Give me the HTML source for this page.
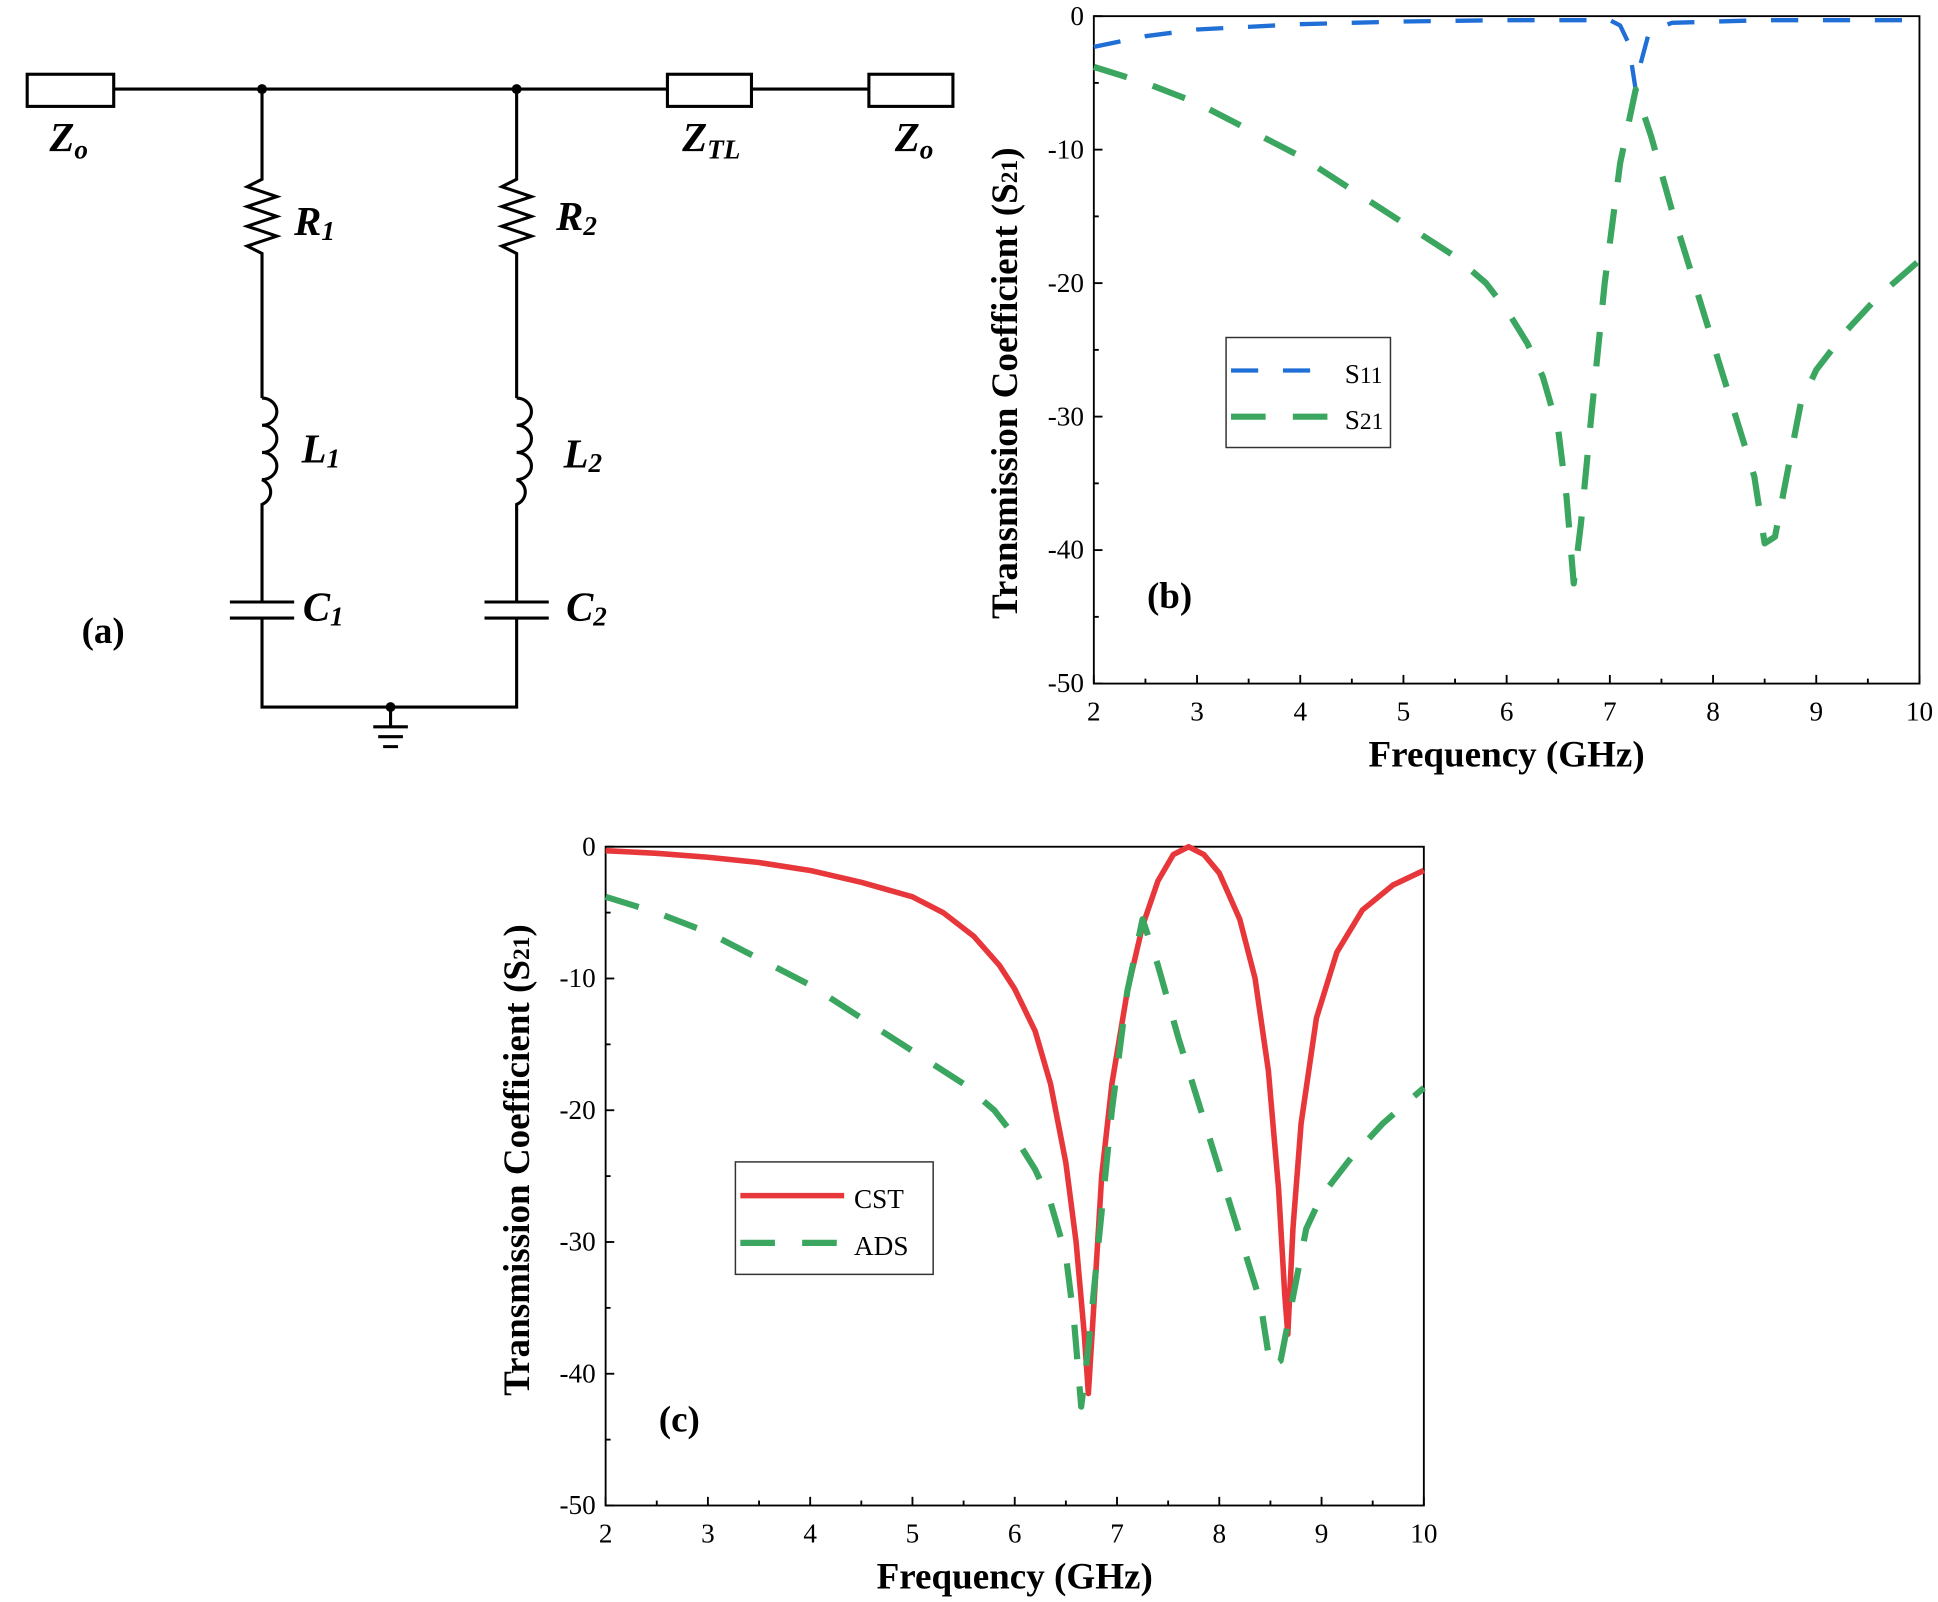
<!DOCTYPE html>
<html><head><meta charset="utf-8"><style>
html,body{margin:0;padding:0;background:#fff;}
svg{display:block;}
.ax{font-family:"Liberation Serif",serif;font-size:22px;fill:#000;}
.lab{font-family:"Liberation Serif",serif;font-size:30px;font-weight:bold;fill:#000;}
.cl{font-family:"Liberation Serif",serif;font-size:33px;font-weight:bold;font-style:italic;fill:#000;}
</style></head><body>
<svg id="s" width="1938" height="1602" viewBox="0 0 1568 1296" xmlns="http://www.w3.org/2000/svg">
<g stroke="#000" stroke-width="2.5" fill="none">
<line x1="92" y1="72" x2="540" y2="72"/><line x1="608" y1="72" x2="703" y2="72"/>
<rect x="22" y="60" width="70" height="26"/><rect x="540" y="60" width="68" height="26"/><rect x="703" y="60" width="68" height="26"/>
<path d="M212 72V145l-12 6l24 8l-24 8l24 8l-24 8l24 8l-24 8l12 6V322"/>
<path d="M418 72V145l-12 6l24 8l-24 8l24 8l-24 8l24 8l-24 8l12 6V322"/>
<path d="M212 322a12 11 0 0 1 0 22a12 11 0 0 1 0 22a12 11 0 0 1 0 22a12 11 0 0 1 0 20V487"/>
<path d="M418 322a12 11 0 0 1 0 22a12 11 0 0 1 0 22a12 11 0 0 1 0 22a12 11 0 0 1 0 20V487"/>
<path d="M186 487h52M186 500h52M212 500V572H418V500M392 487h52M392 500h52"/>
<path d="M316 572V588M302 588h28M306 596h20M310 604h12"/>
</g>
<circle cx="212" cy="72" r="4"/><circle cx="418" cy="72" r="4"/><circle cx="316" cy="572" r="4"/>
<text class="cl" x="40" y="122">Z<tspan font-size="22" dy="6">o</tspan></text>
<text class="cl" x="552" y="122">Z<tspan font-size="22" dy="6">TL</tspan></text>
<text class="cl" x="724" y="122">Z<tspan font-size="22" dy="6">o</tspan></text>
<text class="cl" x="238" y="190">R<tspan font-size="22" dy="4">1</tspan></text>
<text class="cl" x="450" y="186">R<tspan font-size="22" dy="4">2</tspan></text>
<text class="cl" x="244" y="374">L<tspan font-size="22" dy="4">1</tspan></text>
<text class="cl" x="456" y="378">L<tspan font-size="22" dy="4">2</tspan></text>
<text class="cl" x="245" y="502">C<tspan font-size="22" dy="4">1</tspan></text>
<text class="cl" x="458" y="502">C<tspan font-size="22" dy="4">2</tspan></text>
<text class="lab" x="66" y="520" font-size="36">(a)</text>
<g id="pb"></g><g id="pc"></g>
</svg>
<script>
const NS="http://www.w3.org/2000/svg";
function el(p,t,a,txt){const e=document.createElementNS(NS,t);for(const k in a)e.setAttribute(k,a[k]);if(txt!==undefined)e.textContent=txt;p.appendChild(e);return e;}
function plot(g,x0,x1,y0,y1,series,label,leg,legNames,ytOff,ytSize){
 const fx=f=>x0+(f-2)*(x1-x0)/8, fy=d=>y0-d*(y1-y0)/50;
 el(g,"rect",{x:x0,y:y0,width:x1-x0,height:y1-y0,fill:"none",stroke:"#000","stroke-width":1.5});
 for(let f=2;f<=10;f+=0.5){const X=fx(f);const L=(f%1==0)?7:4;el(g,"line",{x1:X,y1:y1,x2:X,y2:y1-L,stroke:"#000","stroke-width":1.5});
  if(f%1==0)el(g,"text",{x:X,y:y1+30,"text-anchor":"middle",class:"ax"},f);}
 for(let d=0;d>=-50;d-=5){const Y=fy(d);const L=(d%10==0)?7:4;el(g,"line",{x1:x0,y1:Y,x2:x0+L,y2:Y,stroke:"#000","stroke-width":1.5});
  if(d%10==0)el(g,"text",{x:x0-8,y:Y+7,"text-anchor":"end",class:"ax"},d);}
 el(g,"text",{x:(x0+x1)/2,y:y1+67,"text-anchor":"middle",class:"lab"},"Frequency (GHz)");
 const t=el(g,"text",{transform:`translate(${x0-62},${(y0+y1)/2+ytOff}) rotate(-90)`,"text-anchor":"middle",class:"lab","font-size":ytSize},"Transmission Coefficient (S");
 el(t,"tspan",{"font-size":"19"},"21"); t.appendChild(document.createTextNode(")"));
 for(const s of series){el(g,"polyline",{points:s.p.map(q=>fx(q[0])+","+fy(q[1])).join(" "),fill:"none",stroke:s.c,"stroke-width":s.w,"stroke-dasharray":s.d||"none","stroke-linejoin":"round"});}
 el(g,"text",{x:label[0],y:label[1],class:"lab","font-size":"32"},label[2]);
 const [lx,ly,lw,lh]=leg; el(g,"rect",{x:lx,y:ly,width:lw,height:lh,fill:"#fff",stroke:"#333","stroke-width":1.2});
 legNames.forEach((n,i)=>{const Y=ly+(i?lh*0.72:lh*0.3);const s=series[n.i];
  el(g,"line",{x1:lx+4,y1:Y,x2:lx+88,y2:Y,stroke:s.c,"stroke-width":s.w,"stroke-dasharray":s.d||"none"});
  const tt=el(g,"text",{x:lx+96,y:Y+10,class:"ax","font-size":"28"},n.t); if(n.sub)el(tt,"tspan",{"font-size":"19"},n.sub);});
}
const ads=[[2,-3.8],[2.5,-5],[3,-6.5],[3.5,-8.5],[4,-10.5],[4.5,-13],[5,-15.5],[5.5,-18],[5.8,-20],[6,-22],[6.2,-24.5],[6.35,-27],[6.5,-31],[6.58,-36],[6.65,-42.5],[6.72,-38],[6.82,-30],[6.95,-20],[7.1,-11],[7.25,-5.5],[7.4,-9],[7.6,-14.5],[7.8,-19.5],[8,-24.5],[8.2,-29.5],[8.4,-34.5],[8.5,-39.5],[8.6,-39],[8.7,-35],[8.85,-29],[9,-26.5],[9.3,-23.5],[9.6,-21],[10,-18.3]];
const s11=[[2,-2.3],[2.5,-1.5],[3,-1.0],[4,-0.6],[5,-0.4],[6,-0.3],[7,-0.3],[7.1,-0.7],[7.18,-2],[7.25,-5.5],[7.3,-3.5],[7.38,-1.2],[7.6,-0.5],[8.5,-0.3],[10,-0.3]];
const cst=[[2,-0.3],[2.5,-0.5],[3,-0.8],[3.5,-1.2],[4,-1.8],[4.5,-2.7],[5,-3.8],[5.3,-5],[5.6,-6.8],[5.85,-9],[6,-10.8],[6.2,-14],[6.35,-18],[6.5,-24],[6.6,-30],[6.68,-37],[6.72,-41.5],[6.78,-34],[6.85,-25],[6.95,-18],[7.1,-11],[7.25,-6],[7.4,-2.6],[7.55,-0.6],[7.7,0],[7.85,-0.6],[8,-2],[8.2,-5.5],[8.35,-10],[8.48,-17],[8.58,-26],[8.64,-34],[8.67,-37],[8.72,-29],[8.8,-21],[8.95,-13],[9.15,-8],[9.4,-4.8],[9.7,-2.9],[10,-1.8]];
plot(document.getElementById("pb"),885,1553,13,553,[{p:s11,c:"#1f6fd6",w:3.5,d:"22 20"},{p:ads,c:"#3aa65f",w:5,d:"28 22"}],[928,492,"(b)"],[992,273,133,89],[{i:0,t:"S",sub:"11"},{i:1,t:"S",sub:"21"}],27,"27");
plot(document.getElementById("pc"),490,1152,685,1218,[{p:cst,c:"#e8373a",w:4.5},{p:ads,c:"#3aa65f",w:5,d:"28 22"}],[533,1158,"(c)"],[595,940,160,91],[{i:0,t:"CST"},{i:1,t:"ADS"}],-13,"30");
</script>
</body></html>
